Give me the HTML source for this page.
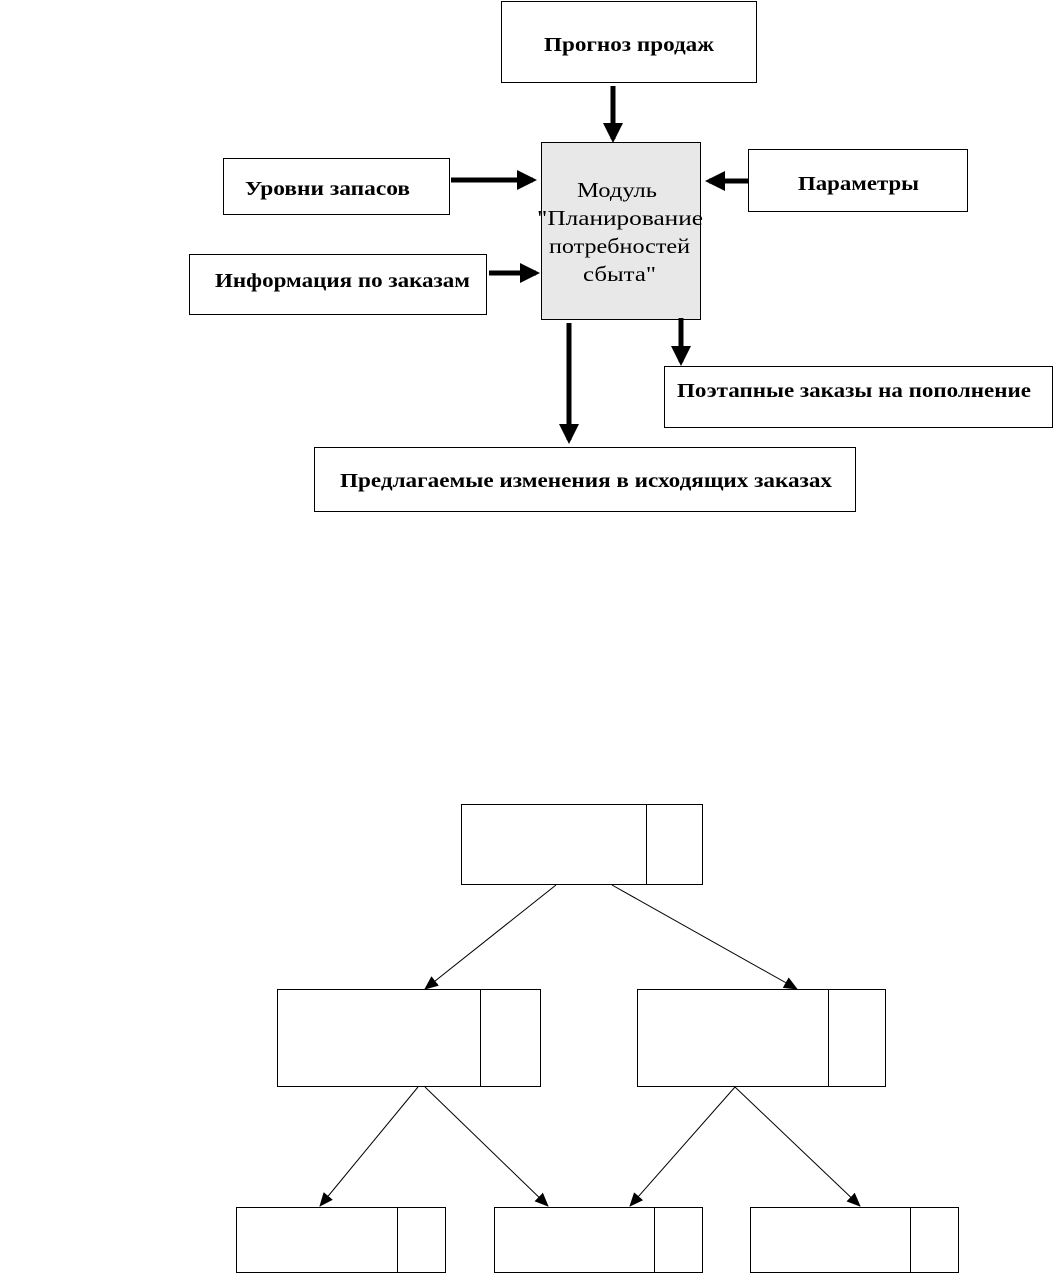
<!DOCTYPE html>
<html><head><meta charset="utf-8"><style>body{margin:0;background:#fff}svg{display:block}</style></head><body>
<svg width="1053" height="1273" viewBox="0 0 1053 1273" xmlns="http://www.w3.org/2000/svg">
<defs>
<marker id="b" markerWidth="4" markerHeight="4" refX="3.2" refY="2" orient="auto" markerUnits="strokeWidth"><path d="M0,0 L4,2 L0,4 z" fill="#000"/></marker>
<marker id="t" markerWidth="14" markerHeight="12" refX="13" refY="6" orient="auto" markerUnits="userSpaceOnUse"><path d="M0,0 L14,6 L0,12 z" fill="#000"/></marker>
</defs>
<g fill="#fff" stroke="#000" stroke-width="1">
<rect x="501.5" y="1.5" width="255" height="81"/>
<rect x="541.5" y="142.5" width="159" height="177" fill="#e8e8e8"/>
<rect x="223.5" y="158.5" width="226" height="56"/>
<rect x="748.5" y="149.5" width="219" height="62"/>
<rect x="189.5" y="254.5" width="297" height="60"/>
<rect x="664.5" y="366.5" width="388" height="61"/>
<rect x="314.5" y="447.5" width="541" height="64"/>
</g>
<g stroke="#000" stroke-width="5" fill="none">
<line x1="613" y1="86" x2="613" y2="139" marker-end="url(#b)"/>
<line x1="451" y1="180" x2="533" y2="180" marker-end="url(#b)"/>
<line x1="748" y1="181" x2="709" y2="181" marker-end="url(#b)"/>
<line x1="489" y1="273" x2="536" y2="273" marker-end="url(#b)"/>
<line x1="569" y1="323" x2="569" y2="440" marker-end="url(#b)"/>
<line x1="681" y1="318" x2="681" y2="362" marker-end="url(#b)"/>
</g>
<g font-family="Liberation Serif, serif" font-size="20" font-weight="bold" fill="#000" lengthAdjust="spacingAndGlyphs">
<text x="544" y="51" textLength="170" lengthAdjust="spacingAndGlyphs">Прогноз продаж</text>
<text x="245" y="195" textLength="165" lengthAdjust="spacingAndGlyphs">Уровни запасов</text>
<text x="798" y="190" textLength="121" lengthAdjust="spacingAndGlyphs">Параметры</text>
<text x="215" y="287" textLength="255" lengthAdjust="spacingAndGlyphs">Информация по заказам</text>
<text x="677" y="397" textLength="354" lengthAdjust="spacingAndGlyphs">Поэтапные заказы на пополнение</text>
<text x="340" y="487" textLength="492" lengthAdjust="spacingAndGlyphs">Предлагаемые изменения в исходящих заказах</text>
</g>
<g font-family="Liberation Serif, serif" font-size="21" fill="#000">
<text x="577" y="197" textLength="80" lengthAdjust="spacingAndGlyphs">Модуль</text>
<text x="537" y="225" textLength="166" lengthAdjust="spacingAndGlyphs">"Планирование</text>
<text x="549" y="253" textLength="141" lengthAdjust="spacingAndGlyphs">потребностей</text>
<text x="583" y="281" textLength="73" lengthAdjust="spacingAndGlyphs">сбыта"</text>
</g>
<g fill="#fff" stroke="#000" stroke-width="1">
<rect x="461.5" y="804.5" width="241" height="80"/><line x1="646.5" y1="804" x2="646.5" y2="885"/>
<rect x="277.5" y="989.5" width="263" height="97"/><line x1="480.5" y1="989" x2="480.5" y2="1087"/>
<rect x="637.5" y="989.5" width="248" height="97"/><line x1="828.5" y1="989" x2="828.5" y2="1087"/>
<rect x="236.5" y="1207.5" width="209" height="65"/><line x1="397.5" y1="1207" x2="397.5" y2="1273"/>
<rect x="494.5" y="1207.5" width="208" height="65"/><line x1="654.5" y1="1207" x2="654.5" y2="1273"/>
<rect x="750.5" y="1207.5" width="208" height="65"/><line x1="910.5" y1="1207" x2="910.5" y2="1273"/>
</g>
<g stroke="#000" stroke-width="1">
<line x1="556" y1="885" x2="425" y2="989" marker-end="url(#t)"/>
<line x1="612" y1="885" x2="797" y2="989" marker-end="url(#t)"/>
<line x1="418" y1="1087" x2="320" y2="1206" marker-end="url(#t)"/>
<line x1="425" y1="1087" x2="548" y2="1206" marker-end="url(#t)"/>
<line x1="735" y1="1087" x2="630" y2="1206" marker-end="url(#t)"/>
<line x1="735" y1="1087" x2="860" y2="1206" marker-end="url(#t)"/>
</g>
</svg>
</body></html>
